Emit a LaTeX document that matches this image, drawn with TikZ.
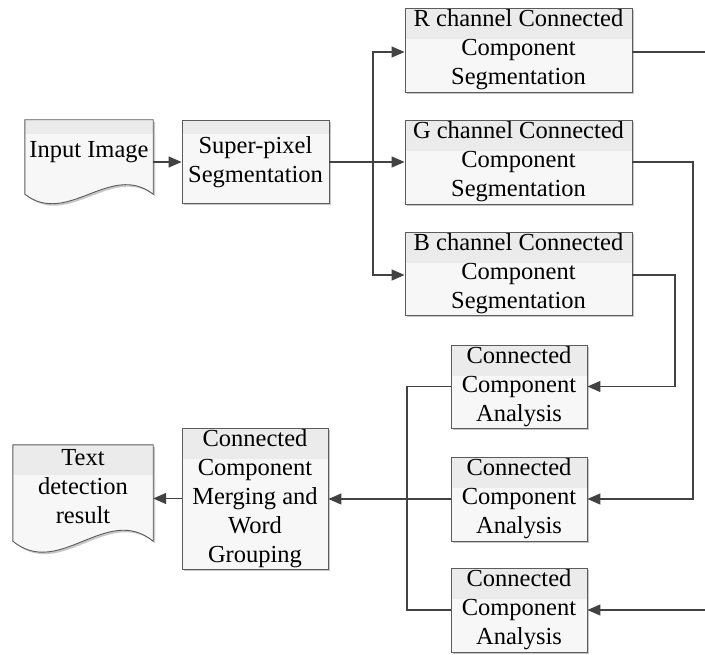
\documentclass[tikz,border=0pt]{standalone}
\usepackage{fontspec}
\setmainfont{Liberation Serif}
\usetikzlibrary{arrows.meta,shadows,backgrounds}

\definecolor{boxline}{HTML}{5C5C5C}
\definecolor{boxtop}{HTML}{EBEBEB}
\definecolor{boxbody}{HTML}{F7F7F7}
\definecolor{wire}{HTML}{424242}

\begin{document}
\begin{tikzpicture}[x=1pt,y=1pt,
  every node/.style={font=\fontsize{24.5}{29}\selectfont, align=center, inner sep=0pt},
  hdrfill/.style={path picture={\fill[boxtop] (path picture bounding box.north west)
      rectangle ([yshift=-#1]path picture bounding box.north east);}},
  box/.style={draw=boxline, line width=0.9pt, fill=boxbody, hdrfill=#1,
      drop shadow={shadow xshift=2pt, shadow yshift=-2pt, fill=black!22, opacity=1}},
  box/.default=31pt,
  docshape/.style={draw=boxline, line width=0.9pt, fill=boxbody, hdrfill=#1,
      drop shadow={shadow xshift=2pt, shadow yshift=-2pt, fill=black!22, opacity=1}},
  wire/.style={draw=wire, line width=1.4pt},
  arr/.style={wire, -{Triangle[length=13pt,width=11pt]}}]
\useasboundingbox (0,0) rectangle (705,-655);

% documents (text only, outline drawn behind)
\node (inimg) [minimum width=128, minimum height=64] at (89,-152) {Input Image};
\node (result) [minimum width=140, minimum height=84] at (83,-487) {Text\\detection\\result};

% process boxes
\node (spix) [box=14pt, minimum width=147, minimum height=83] at (255.5,-162) {Super-pixel\\Segmentation};
\node (rseg) [box, minimum width=227, minimum height=84] at (518.5,-50) {R channel Connected\\Component\\Segmentation};
\node (gseg) [box, minimum width=227, minimum height=84] at (518.5,-162) {G channel Connected\\Component\\Segmentation};
\node (bseg) [box, minimum width=227, minimum height=83] at (518.5,-273.5) {B channel Connected\\Component\\Segmentation};
\node (cca1) [box, minimum width=136, minimum height=83] at (519,-386.5) {Connected\\Component\\Analysis};
\node (cca2) [box, minimum width=136, minimum height=84] at (519,-499) {Connected\\Component\\Analysis};
\node (cca3) [box, minimum width=136, minimum height=84] at (519,-610) {Connected\\Component\\Analysis};
\node (merge) [box, minimum width=146, minimum height=141] at (255,-498.5) {Connected\\Component\\Merging and\\Word\\Grouping};

\begin{pgfonlayer}{background}
\path[docshape=14pt] (inimg.north west) -- (inimg.north east) -- ([yshift=-10]inimg.south east)
  .. controls +(-42.7,33) and +(42.7,-33) .. ([yshift=-10]inimg.south west) -- cycle;
\path[docshape=30pt] (result.north west) -- (result.north east) -- ([yshift=-12]result.south east)
  .. controls +(-46.7,38) and +(46.7,-38) .. ([yshift=-12]result.south west) -- cycle;
\end{pgfonlayer}

% free ends at the right edge
\coordinate (split) at (373,-162);
\coordinate (redge) at (705,-52);
\coordinate (bedge) at (705,-610);
\coordinate (lbus) at (407,-386.5);

% connectors
\draw[arr] (inimg.east |- spix.west) -- (spix.west);
\draw[arr] (spix.east) -- (gseg.west);
\draw[arr] (split) |- ([yshift=-2]rseg.west);
\draw[arr] (split) |- ([yshift=-1.5]bseg.west);
\draw[wire] ([yshift=-2]rseg.east) -- (redge);
\draw[arr] (gseg.east) -| (693,-499) -- (cca2.east);
\draw[arr] ([yshift=-1.5]bseg.east) -| (675,-386.5) -- (cca1.east);
\draw[arr] (bedge) -- (cca3.east);
\draw[wire] (cca1.west) -- (lbus) |- (cca3.west);
\draw[arr] (cca2.west) -- (merge.east |- cca2.west);
\draw[arr] (merge.west) -- (merge.west -| result.east);
\end{tikzpicture}
\end{document}
